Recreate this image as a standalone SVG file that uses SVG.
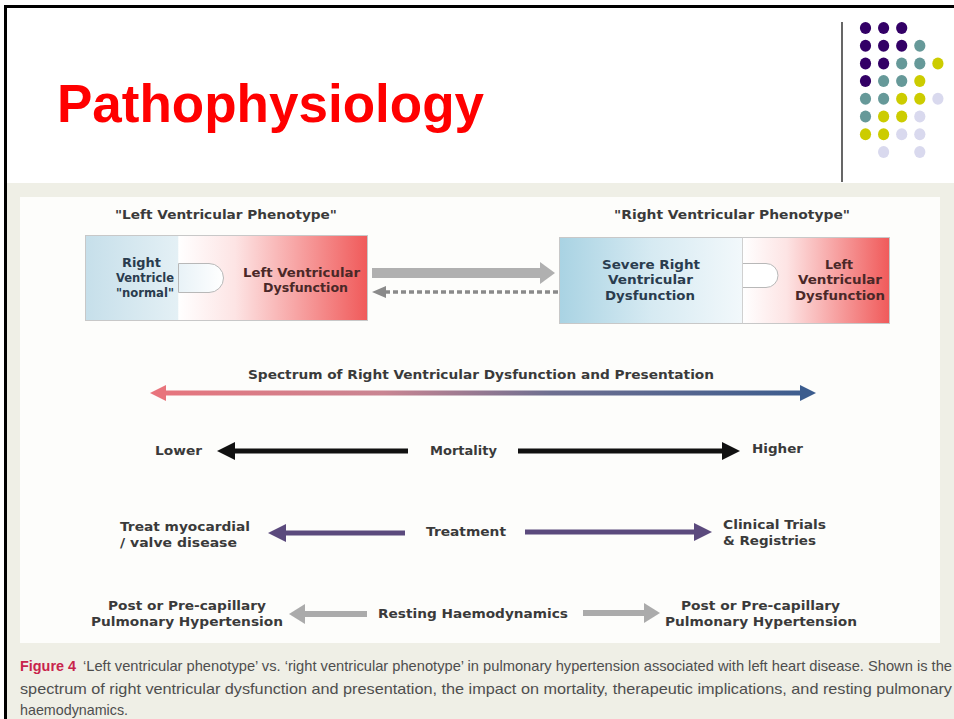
<svg xmlns="http://www.w3.org/2000/svg" width="954" height="719" viewBox="0 0 954 719">
<style>
.t{font-family:"DejaVu Sans",Verdana,sans-serif;font-weight:bold;font-size:12px;fill:#3a3a3a}
.tb{fill:#2a3c4e}
.tr{fill:#4a2828}
.cap{font-family:"Liberation Sans",Arial,sans-serif;font-size:14.5px;fill:#4e4e4e}
.fig{font-family:"Liberation Sans",Arial,sans-serif;font-size:14.5px;font-weight:bold;fill:#c8244c}
.pu{fill:#330066}.te{fill:#669999}.ye{fill:#cccc00}.la{fill:#d9d9ee}
.edge{fill:none}
</style>
<defs>
<linearGradient id="lb1" x1="0" x2="1"><stop offset="0" stop-color="#c6dfea"/><stop offset="1" stop-color="#e4f0f5"/></linearGradient>
<linearGradient id="lr1" x1="0" x2="1"><stop offset="0" stop-color="#ffffff"/><stop offset="0.3" stop-color="#fde4e4"/><stop offset="1" stop-color="#f05a5a"/></linearGradient>
<linearGradient id="rb1" x1="0" x2="1"><stop offset="0" stop-color="#a9d3e3"/><stop offset="0.5" stop-color="#d6eaf2"/><stop offset="1" stop-color="#f2f8fb"/></linearGradient>
<linearGradient id="knob" x1="0" x2="1"><stop offset="0" stop-color="#e8f2f7"/><stop offset="1" stop-color="#ffffff"/></linearGradient>
<linearGradient id="spec" gradientUnits="userSpaceOnUse" x1="150" y1="0" x2="816" y2="0"><stop offset="0" stop-color="#e8747c"/><stop offset="0.35" stop-color="#c98592"/><stop offset="0.6" stop-color="#6f6f90"/><stop offset="1" stop-color="#3b5c8e"/></linearGradient>
<marker id="hSpecL" markerUnits="userSpaceOnUse" markerWidth="16" markerHeight="16" refX="3" refY="8" orient="auto-start-reverse"><path d="M0,0 L16,8 L0,16 z" fill="#e8747c"/></marker>
<marker id="hSpecR" markerUnits="userSpaceOnUse" markerWidth="16" markerHeight="16" refX="3" refY="8" orient="auto"><path d="M0,0 L16,8 L0,16 z" fill="#3b5c8e"/></marker>
<marker id="hBlack" markerUnits="userSpaceOnUse" markerWidth="18" markerHeight="18" refX="3" refY="9" orient="auto"><path d="M0,0 L18,9 L0,18 z" fill="#111"/></marker>
<marker id="hPurple" markerUnits="userSpaceOnUse" markerWidth="18" markerHeight="18" refX="3" refY="9" orient="auto"><path d="M0,0 L18,9 L0,18 z" fill="#5b4a7d"/></marker>
<marker id="hGray" markerUnits="userSpaceOnUse" markerWidth="16" markerHeight="20" refX="3" refY="10" orient="auto"><path d="M0,0 L16,10 L0,20 z" fill="#ababab"/></marker>
<marker id="hGrayBig" markerUnits="userSpaceOnUse" markerWidth="15" markerHeight="22" refX="2" refY="11" orient="auto"><path d="M0,0 L15,11 L0,22 z" fill="#b0b0b0"/></marker>
<marker id="hDash" markerUnits="userSpaceOnUse" markerWidth="14" markerHeight="12" refX="2" refY="6" orient="auto"><path d="M0,0 L14,6 L0,12 z" fill="#8a8a8a"/></marker>
</defs>

<!-- slide frame and background -->
<rect x="0" y="0" width="954" height="719" fill="#ffffff"/>
<rect x="7" y="183" width="947" height="536" fill="#efefe6"/>
<rect x="20" y="197" width="920" height="446" fill="#fdfdfb"/>
<path d="M5.5,719 V6.5 H954" fill="none" stroke="#000" stroke-width="3"/>
<line x1="842" y1="22" x2="842" y2="182" stroke="#000" stroke-width="1.2"/>

<g id="title">
<text x="57" y="122" font-family="Liberation Sans,Arial,sans-serif" font-weight="bold" font-size="53" fill="#ff0000" textLength="427" lengthAdjust="spacingAndGlyphs">Pathophysiology</text>
</g>

<g id="logo-dots">
<ellipse class="pu" cx="865.5" cy="28" rx="5.6" ry="6"/><ellipse class="pu" cx="883.6" cy="28" rx="5.6" ry="6"/><ellipse class="pu" cx="901.7" cy="28" rx="5.6" ry="6"/>
<ellipse class="pu" cx="865.5" cy="45.7" rx="5.6" ry="6"/><ellipse class="pu" cx="883.6" cy="45.7" rx="5.6" ry="6"/><ellipse class="pu" cx="901.7" cy="45.7" rx="5.6" ry="6"/><ellipse class="te" cx="919.8" cy="45.7" rx="5.6" ry="6"/>
<ellipse class="pu" cx="865.5" cy="63.4" rx="5.6" ry="6"/><ellipse class="pu" cx="883.6" cy="63.4" rx="5.6" ry="6"/><ellipse class="te" cx="901.7" cy="63.4" rx="5.6" ry="6"/><ellipse class="te" cx="919.8" cy="63.4" rx="5.6" ry="6"/><ellipse class="ye" cx="937.9" cy="63.4" rx="5.6" ry="6"/>
<ellipse class="pu" cx="865.5" cy="81.1" rx="5.6" ry="6"/><ellipse class="te" cx="883.6" cy="81.1" rx="5.6" ry="6"/><ellipse class="te" cx="901.7" cy="81.1" rx="5.6" ry="6"/><ellipse class="ye" cx="919.8" cy="81.1" rx="5.6" ry="6"/>
<ellipse class="te" cx="865.5" cy="98.8" rx="5.6" ry="6"/><ellipse class="te" cx="883.6" cy="98.8" rx="5.6" ry="6"/><ellipse class="ye" cx="901.7" cy="98.8" rx="5.6" ry="6"/><ellipse class="ye" cx="919.8" cy="98.8" rx="5.6" ry="6"/><ellipse class="la" cx="937.9" cy="98.8" rx="5.6" ry="6"/>
<ellipse class="te" cx="865.5" cy="116.5" rx="5.6" ry="6"/><ellipse class="ye" cx="883.6" cy="116.5" rx="5.6" ry="6"/><ellipse class="ye" cx="901.7" cy="116.5" rx="5.6" ry="6"/><ellipse class="la" cx="919.8" cy="116.5" rx="5.6" ry="6"/>
<ellipse class="ye" cx="865.5" cy="134.2" rx="5.6" ry="6"/><ellipse class="ye" cx="883.6" cy="134.2" rx="5.6" ry="6"/><ellipse class="la" cx="901.7" cy="134.2" rx="5.6" ry="6"/><ellipse class="la" cx="919.8" cy="134.2" rx="5.6" ry="6"/>
<ellipse class="la" cx="883.6" cy="151.9" rx="5.6" ry="6"/><ellipse class="la" cx="919.8" cy="151.9" rx="5.6" ry="6"/>
</g>

<g id="lv-phenotype">
<text class="t" x="115" y="219" textLength="222" lengthAdjust="spacingAndGlyphs">"Left Ventricular Phenotype"</text>
<rect x="85.5" y="235.5" width="93" height="85" fill="url(#lb1)"/>
<rect x="178.5" y="235.5" width="189" height="85" fill="url(#lr1)"/>
<path d="M178.5,263.5 H209 A14.5,14.5 0 0 1 209,292.5 H178.5 Z" fill="url(#knob)" stroke="#b8b8b8" stroke-width="1"/>
<rect x="85.5" y="235.5" width="282" height="85" fill="none" stroke="#c8c8c8" stroke-width="1"/>
<text class="t tb" x="122" y="267" textLength="39" lengthAdjust="spacingAndGlyphs">Right</text>
<text class="t tb" x="116" y="282" textLength="58" lengthAdjust="spacingAndGlyphs">Ventricle</text>
<text class="t tb" x="116" y="297" textLength="58" lengthAdjust="spacingAndGlyphs">"normal"</text>
<text class="t tr" x="243" y="277" textLength="117" lengthAdjust="spacingAndGlyphs">Left Ventricular</text>
<text class="t tr" x="263" y="292" textLength="85" lengthAdjust="spacingAndGlyphs">Dysfunction</text>
</g>

<g id="rv-phenotype">
<text class="t" x="614" y="219" textLength="236" lengthAdjust="spacingAndGlyphs">"Right Ventricular Phenotype"</text>
<rect x="559.5" y="237.5" width="183" height="86" fill="url(#rb1)"/>
<rect x="742.5" y="237.5" width="147" height="86" fill="url(#lr1)"/>
<path d="M742.5,263.5 H766 A12,12 0 0 1 766,287.5 H742.5 Z" fill="#ffffff" stroke="#b8b8b8" stroke-width="1"/>
<rect x="559.5" y="237.5" width="330" height="86" fill="none" stroke="#c8c8c8" stroke-width="1"/>
<line x1="742.5" y1="237.5" x2="742.5" y2="323.5" stroke="#d0d0d0" stroke-width="1"/>
<text class="t tb" x="602" y="269" textLength="98" lengthAdjust="spacingAndGlyphs">Severe Right</text>
<text class="t tb" x="608" y="284" textLength="85" lengthAdjust="spacingAndGlyphs">Ventricular</text>
<text class="t tb" x="605" y="300" textLength="90" lengthAdjust="spacingAndGlyphs">Dysfunction</text>
<text class="t tr" x="825" y="269" textLength="28" lengthAdjust="spacingAndGlyphs">Left</text>
<text class="t tr" x="798" y="284" textLength="84" lengthAdjust="spacingAndGlyphs">Ventricular</text>
<text class="t tr" x="795" y="300" textLength="90" lengthAdjust="spacingAndGlyphs">Dysfunction</text>
</g>

<g id="spectrum">
<text class="t" x="248" y="379" textLength="466" lengthAdjust="spacingAndGlyphs">Spectrum of Right Ventricular Dysfunction and Presentation</text>
</g>

<g id="mortality-lower"><text class="t" x="155" y="455" textLength="47" lengthAdjust="spacingAndGlyphs">Lower</text></g>
<g id="mortality"><text class="t" x="430" y="455" textLength="67" lengthAdjust="spacingAndGlyphs">Mortality</text></g>
<g id="mortality-higher"><text class="t" x="752" y="453" textLength="51" lengthAdjust="spacingAndGlyphs">Higher</text></g>

<g id="treat-valve"><text class="t" x="120" y="531" textLength="130" lengthAdjust="spacingAndGlyphs">Treat myocardial</text><text class="t" x="120" y="547" textLength="117" lengthAdjust="spacingAndGlyphs">/ valve disease</text></g>
<g id="treatment"><text class="t" x="426" y="536" textLength="80" lengthAdjust="spacingAndGlyphs">Treatment</text></g>
<g id="clinical-trials"><text class="t" x="723" y="529" textLength="103" lengthAdjust="spacingAndGlyphs">Clinical Trials</text><text class="t" x="723" y="545" textLength="93" lengthAdjust="spacingAndGlyphs">&amp; Registries</text></g>

<g id="ph-left"><text class="t" x="108" y="610" textLength="158" lengthAdjust="spacingAndGlyphs">Post or Pre-capillary</text><text class="t" x="91" y="626" textLength="192" lengthAdjust="spacingAndGlyphs">Pulmonary Hypertension</text></g>
<g id="haemodynamics"><text class="t" x="378" y="618" textLength="190" lengthAdjust="spacingAndGlyphs">Resting Haemodynamics</text></g>
<g id="ph-right"><text class="t" x="681" y="610" textLength="159" lengthAdjust="spacingAndGlyphs">Post or Pre-capillary</text><text class="t" x="665" y="626" textLength="192" lengthAdjust="spacingAndGlyphs">Pulmonary Hypertension</text></g>

<g id="connectors" class="edge">
<line x1="372" y1="273" x2="542" y2="273" stroke="#b0b0b0" stroke-width="10" marker-end="url(#hGrayBig)"/>
<line x1="558" y1="292" x2="384" y2="292" stroke="#8a8a8a" stroke-width="3.5" stroke-dasharray="5,3" marker-end="url(#hDash)"/>
<line x1="163" y1="393" x2="803" y2="393" stroke="url(#spec)" stroke-width="5" marker-start="url(#hSpecL)" marker-end="url(#hSpecR)"/>
<line x1="408" y1="451" x2="232" y2="451" stroke="#111" stroke-width="5" marker-end="url(#hBlack)"/>
<line x1="518" y1="451" x2="725" y2="451" stroke="#111" stroke-width="5" marker-end="url(#hBlack)"/>
<line x1="405" y1="533" x2="283" y2="533" stroke="#5b4a7d" stroke-width="5" marker-end="url(#hPurple)"/>
<line x1="525" y1="532" x2="697" y2="532" stroke="#5b4a7d" stroke-width="5" marker-end="url(#hPurple)"/>
<line x1="367" y1="614" x2="302" y2="614" stroke="#ababab" stroke-width="6" marker-end="url(#hGray)"/>
<line x1="583" y1="613" x2="647" y2="613" stroke="#ababab" stroke-width="6" marker-end="url(#hGray)"/>
</g>

<g id="caption">
<text class="fig" x="20" y="671" textLength="56" lengthAdjust="spacingAndGlyphs">Figure 4</text>
<text class="cap" x="83" y="671" textLength="869" lengthAdjust="spacingAndGlyphs">‘Left ventricular phenotype’ vs. ‘right ventricular phenotype’ in pulmonary hypertension associated with left heart disease. Shown is the</text>
<text class="cap" x="20" y="694" textLength="932" lengthAdjust="spacingAndGlyphs">spectrum of right ventricular dysfunction and presentation, the impact on mortality, therapeutic implications, and resting pulmonary</text>
<text class="cap" x="20" y="715" textLength="108" lengthAdjust="spacingAndGlyphs">haemodynamics.</text>
</g>
</svg>
